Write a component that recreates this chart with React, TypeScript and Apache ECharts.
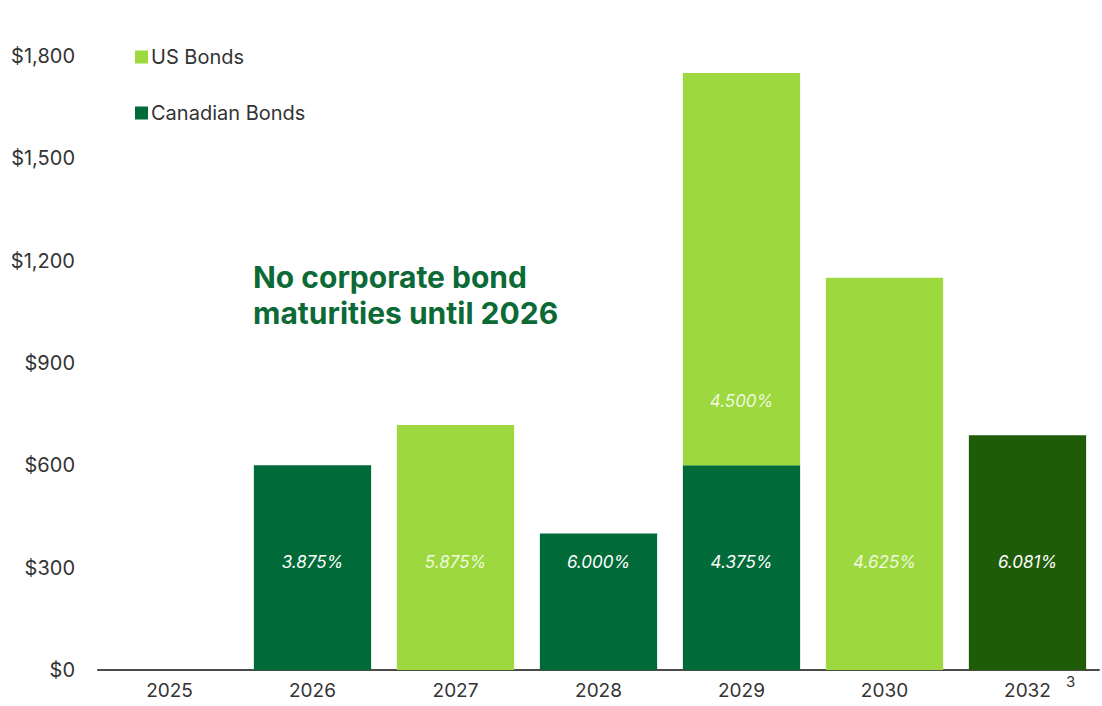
import React, { useEffect, useRef } from "react";
import * as echarts from "echarts";

const years = ["2025", "2026", "2027", "2028", "2029", "2030", "2032"];
const canadianBonds: (number | null)[] = [null, 600, null, 400, 600, null, 688];
const usBonds: (number | null)[] = [null, null, 718, null, 1150, 1150, null];
const canadianRates: (string | null)[] = [null, "3.875%", null, "6.000%", "4.375%", null, "6.081%"];
const usRates: (string | null)[] = [null, null, "5.875%", null, "4.500%", "4.625%", null];
const yTicks = [0, 300, 600, 900, 1200, 1500, 1800];

const DARK = "#006a38";
const LIGHT = "#9dd93e";
const DARKEST = "#1f5c08";
const FONT = "Inter, 'Noto Sans', sans-serif";

export default function App() {
  const ref = useRef<HTMLDivElement>(null);
  useEffect(() => {
    if (!ref.current) return;
    const chart = echarts.init(ref.current, null, { renderer: "svg" });
    const canData = canadianBonds.map((v, i) => {
      if (v == null) return null;
      return {
        value: v,
        itemStyle: i === 6 ? { color: DARKEST } : undefined,
        label: { show: true, formatter: canadianRates[i] ?? "", distance: 100 },
      };
    });
    const usData = usBonds.map((v, i) => {
      if (v == null) return null;
      const stackedOnCan = canadianBonds[i] != null;
      return {
        value: v,
        label: { show: true, formatter: usRates[i] ?? "", distance: stackedOnCan ? 56 : 100 },
      };
    });
    chart.setOption({
      animation: false,
      textStyle: { fontFamily: FONT },
      grid: { left: 98, right: 3, top: 56, bottom: 36, containLabel: false },
      legend: {
        data: ["US Bonds", "Canadian Bonds"],
        orient: "vertical",
        left: 130,
        top: 42,
        itemWidth: 13,
        itemHeight: 13,
        itemGap: 36,
        icon: "rect",
        textStyle: { fontSize: 20, color: "#333", fontFamily: FONT, padding: [0, 0, 0, -2] },
      },
      xAxis: {
        type: "category",
        data: years,
        axisLine: { show: true, lineStyle: { color: "#4a4a4a", width: 2 } },
        axisTick: { show: false },
        axisLabel: { color: "#333", fontSize: 19, margin: 11, fontFamily: FONT },
      },
      yAxis: {
        type: "value",
        min: 0,
        max: 1800,
        interval: 300,
        splitLine: { show: false },
        axisLine: { show: false },
        axisTick: { show: false },
        axisLabel: {
          color: "#333",
          fontSize: 20,
          margin: 23,
          fontFamily: FONT,
          formatter: (v: number) => (yTicks.includes(v) ? "$" + v.toLocaleString("en-US") : ""),
        },
      },
      series: [
        {
          name: "Canadian Bonds",
          type: "bar",
          stack: "total",
          barCategoryGap: "18%",
          itemStyle: { color: DARK },
          label: {
            show: true,
            position: "insideBottom",
            color: "#ffffff",
            fontSize: 17,
            fontStyle: "italic",
            fontFamily: FONT,
          },
          data: canData,
        },
        {
          name: "US Bonds",
          type: "bar",
          stack: "total",
          barCategoryGap: "18%",
          itemStyle: { color: LIGHT },
          label: {
            show: true,
            position: "insideBottom",
            color: "rgba(255,255,255,0.85)",
            fontSize: 17,
            fontStyle: "italic",
            fontFamily: FONT,
          },
          data: usData,
        },
      ],
      graphic: [
        {
          type: "text",
          left: 253,
          top: 259,
          style: {
            text: "No corporate bond\nmaturities until 2026",
            fill: "#0b6a35",
            font: `bold 30px ${FONT}`,
            lineHeight: 36,
          },
        },
        {
          type: "text",
          left: 1066,
          top: 674,
          style: { text: "3", fill: "#333", font: `15px ${FONT}` },
        },
      ],
    });
    return () => chart.dispose();
  }, []);
  return (
    <div
      ref={ref}
      style={{ position: "fixed", left: 0, top: 0, width: 1102, height: 706, background: "#fff" }}
    />
  );
}
